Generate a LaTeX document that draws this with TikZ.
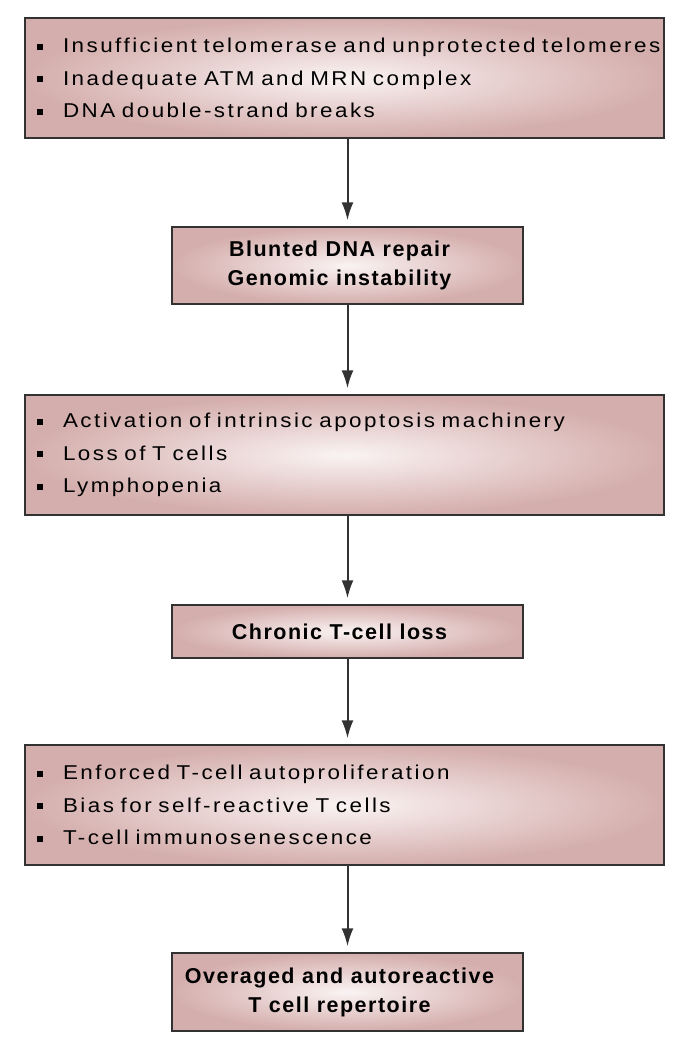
\documentclass[tikz,border=0pt]{standalone}
\usepackage{fontspec}
\setmainfont{Liberation Sans}
\newfontfamily\itemfont[FakeStretch=1.12,WordSpace=1.4,LetterSpace=12.4]{Liberation Sans}
\newfontfamily\headfont[LetterSpace=7]{Liberation Sans Bold}
\usetikzlibrary{arrows.meta}
\definecolor{boxedge}{RGB}{212,174,172}
\definecolor{boxmid}{RGB}{250,243,243}
\definecolor{lineg}{RGB}{50,50,50}
\newcommand{\bul}{\rule[3pt]{6pt}{6pt}\hspace{20pt}}
\begin{document}
\begin{tikzpicture}[x=1pt,y=-1pt,
 boxbase/.style={draw=lineg, line width=1.5pt, inner color=boxmid, outer color=boxedge, rectangle, inner sep=0pt},
 listbox/.style={boxbase, minimum width=639pt, minimum height=120pt, text width=615pt, align=left, font=\itemfont\fontsize{20}{32.5}\selectfont},
 headbox/.style={boxbase, minimum width=351pt},
 headtext/.style={inner sep=0pt, xshift=-8pt, align=center, font=\headfont\fontsize{21.5}{29}\selectfont},
 flow/.style={draw=lineg, line width=2pt, -{Latex[length=18pt,width=12pt]}, shorten >=6pt}]
\useasboundingbox (0,0) rectangle (689,1050);
\node[listbox] (b1) at (344.5,78) {\bul Insufficient telomerase and unprotected telomeres\\ \bul Inadequate ATM and MRN complex\\ \bul DNA double-strand breaks};
\node[headbox, minimum height=77pt] (b2) at (347.5,265.5) {};
\node[headtext] (t2) at (b2.center) {Blunted DNA repair\\Genomic instability};
\node[listbox] (b3) at (344.5,455) {\bul Activation of intrinsic apoptosis machinery\\ \bul Loss of T cells\\ \bul Lymphopenia};
\node[headbox, minimum height=53pt] (b4) at (347.5,631.5) {};
\node[headtext] (t4) at (b4.center) {Chronic T-cell loss};
\node[listbox] (b5) at (344.5,805) {\bul Enforced T-cell autoproliferation\\ \bul Bias for self-reactive T cells\\ \bul T-cell immunosenescence};
\node[headbox, minimum height=78pt] (b6) at (347.5,992) {};
\node[headtext] (t6) at (b6.center) {Overaged and autoreactive\\T cell repertoire};
\draw[flow] (b1.south -| b2.north) -- (b2.north);
\draw[flow] (b2.south) -- (b3.north -| b2.south);
\draw[flow] (b3.south -| b4.north) -- (b4.north);
\draw[flow] (b4.south) -- (b5.north -| b4.south);
\draw[flow] (b5.south -| b6.north) -- (b6.north);
\end{tikzpicture}
\end{document}
